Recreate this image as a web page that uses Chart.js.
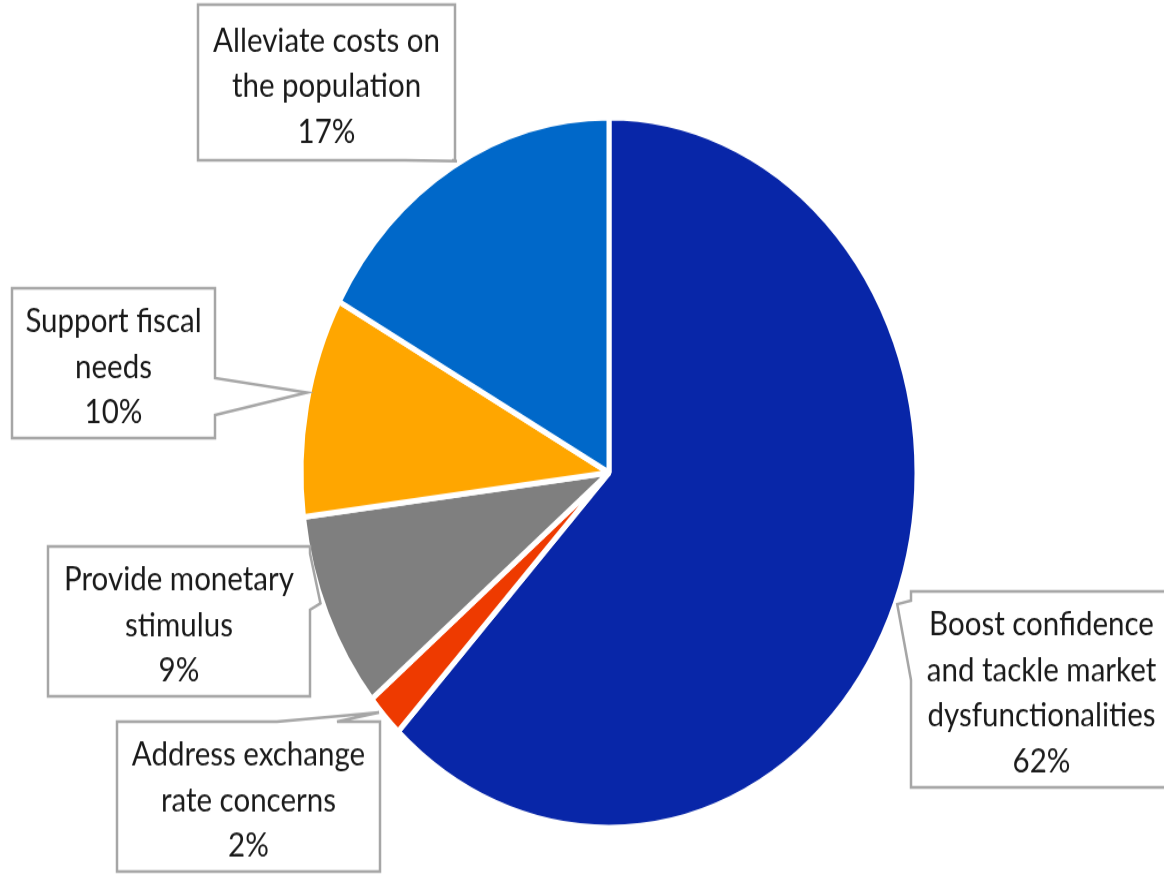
<!DOCTYPE html>
<html>
<head>
<meta charset="utf-8">
<script src="https://cdn.jsdelivr.net/npm/chart.js@4.4.1/dist/chart.umd.min.js"></script>
<style>
  html, body { margin: 0; padding: 0; background: #ffffff; overflow: hidden; }
  #frame { width: 1164px; height: 875px; overflow: hidden; position: relative; }
  #stretch { width: 1164px; height: 759px; transform-origin: 0 0; transform: scaleY(1.1528); }
  canvas { display: block; }
</style>
</head>
<body>
<div id="frame"><div id="stretch"><canvas id="pie" width="1164" height="759"></canvas></div></div>
<script>
// Categories (one entry per slice, split into display lines) and shares in percent
const categories = [
  ['Boost confidence', 'and tackle market', 'dysfunctionalities'],
  ['Address exchange', 'rate concerns'],
  ['Provide monetary', 'stimulus'],
  ['Support fiscal', 'needs'],
  ['Alleviate costs on', 'the population']
];
const shares = [62, 2, 9, 10, 17];
const sliceColors = ['#0826a8', '#ee3a00', '#7f7f7f', '#ffa600', '#0068c9'];

// Callout boxes: rectangle, side carrying the pointer, pointer base span,
// and where along the slice the pointer lands (fraction of its sweep)
const callouts = [
  { box: [911, 513, 1172, 683], side: 'left',   base: [590, 521], along: 0.50 },
  { box: [117, 626, 380, 756],  side: 'top',    base: [277, 337], along: 0.65 },
  { box: [48, 474, 310, 604],   side: 'right',  base: [480, 529], along: 0.56 },
  { box: [12, 250, 215, 380],   side: 'right',  base: [328, 360], along: 0.56 },
  { box: [198, 4, 455, 139],    side: 'bottom', base: [452, 405], along: 0.52 }
];

const FONT = '29.5px Lato, "Open Sans", sans-serif';
const LINE_H = 39.5;
const TEXT_SHIFT = 3;

function boxPath(ctx, c, tip) {
  const [x0, y0, x1, y1] = c.box;
  const pts = [];
  pts.push([x0, y0]);
  if (c.side === 'top') { pts.push([c.base[0], y0], tip, [c.base[1], y0]); }
  pts.push([x1, y0]);
  if (c.side === 'right') { pts.push([x1, c.base[0]], tip, [x1, c.base[1]]); }
  pts.push([x1, y1]);
  if (c.side === 'bottom') { pts.push([c.base[0], y1], tip, [c.base[1], y1]); }
  pts.push([x0, y1]);
  if (c.side === 'left') { pts.push([x0, c.base[0]], tip, [x0, c.base[1]]); }
  ctx.beginPath();
  ctx.moveTo(pts[0][0], pts[0][1]);
  for (let i = 1; i < pts.length; i++) ctx.lineTo(pts[i][0], pts[i][1]);
  ctx.closePath();
}

const calloutPlugin = {
  id: 'callouts',
  afterDraw(chart) {
    const ctx = chart.ctx;
    const arcs = chart.getDatasetMeta(0).data;
    arcs.forEach((arc, i) => {
      const c = callouts[i];
      const p = arc.getProps(['x', 'y', 'startAngle', 'endAngle', 'outerRadius'], true);
      const a = p.startAngle + c.along * (p.endAngle - p.startAngle);
      const r = p.outerRadius + 2;
      const tip = [p.x + r * Math.cos(a), p.y + r * Math.sin(a)];
      ctx.save();
      boxPath(ctx, c, tip);
      ctx.fillStyle = '#ffffff';
      ctx.fill();
      ctx.lineWidth = 2.5;
      ctx.lineJoin = 'miter';
      ctx.strokeStyle = '#a6a6a6';
      ctx.stroke();
      const lines = categories[i].concat([shares[i] + '%']);
      const [x0, y0, x1, y1] = c.box;
      const cx = (x0 + x1) / 2, cy = (y0 + y1) / 2 + TEXT_SHIFT;
      ctx.font = FONT;
      ctx.fillStyle = '#1a1a1a';
      ctx.textAlign = 'center';
      ctx.textBaseline = 'middle';
      const startY = cy - (lines.length - 1) * LINE_H / 2;
      lines.forEach((t, k) => ctx.fillText(t, cx, startY + k * LINE_H));
      ctx.restore();
    });
  }
};

new Chart(document.getElementById('pie'), {
  type: 'pie',
  data: {
    labels: categories.map(l => l.join(' ')),
    datasets: [{
      data: shares,
      backgroundColor: sliceColors,
      borderColor: '#ffffff',
      borderWidth: 5
    }]
  },
  options: {
    responsive: false,
    animation: false,
    radius: 308,
    layout: { padding: { left: 303, right: 249, top: 104, bottom: 43 } },
    plugins: { legend: { display: false }, tooltip: { enabled: false } }
  },
  plugins: [calloutPlugin]
});
</script>
</body>
</html>
